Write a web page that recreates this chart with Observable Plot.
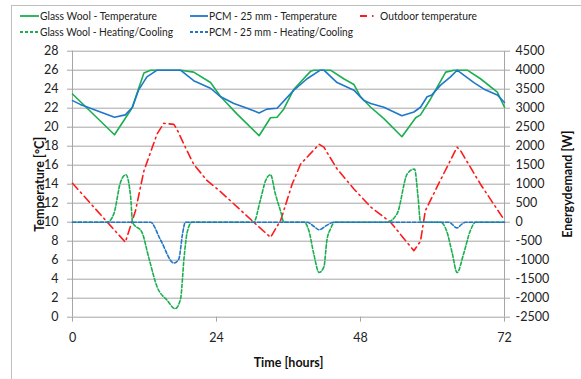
<!DOCTYPE html>
<html>
<head>
<meta charset="utf-8">
<script src="https://cdn.jsdelivr.net/npm/d3@7"></script>
<script src="https://cdn.jsdelivr.net/npm/@observablehq/plot@0.6"></script>
<style>
  html, body { margin: 0; padding: 0; background: #fff; overflow: hidden; width: 581px; height: 379px; }
  #frame { position: absolute; left: 11px; top: 5px; width: 700px; height: 500px; border: 1px solid #bfbfbf; }
  #legend { position: absolute; left: 0; top: 0; }
  #chart { position: absolute; left: 0; top: 30px; }
</style>
</head>
<body>
<div id="frame"></div>
<div id="chart"></div>
<svg id="legend" width="581" height="45" font-family="Lato, sans-serif" font-size="12.3px"></svg>
<script>
// ---- Data ----
// Glass Wool - Temperature [°C]
const gwTempHours = [0, 7, 9.9, 11.9, 13, 18, 20.2, 23, 24.7, 27.4, 31.1, 33, 34.1, 35.2, 36.9, 39.7, 40.2, 43, 45.2, 46.9, 48, 49.7, 51.9, 54.9, 57.2, 58, 59.7, 62.2, 63.6, 65.8, 68, 70.8, 72];
const gwTempValues = [23.5, 19.2, 22.0, 25.7, 26, 26, 25.8, 24.7, 23.2, 21.4, 19.1, 21, 21.05, 21.9, 24, 25.9, 26, 26, 25.1, 24.5, 23.2, 22.1, 20.9, 19, 21, 21.3, 23, 25.8, 26, 26, 25.1, 23.7, 22.1];
// PCM - 25 mm - Temperature [°C]
const pcmTempHours = [0, 1.3, 7, 8.8, 10, 11, 12.4, 14.1, 18, 20.2, 23, 24.7, 26.9, 29.1, 31.1, 32.4, 34.1, 36.9, 39.1, 41.3, 41.9, 44.1, 46.9, 48.6, 49.7, 51.9, 54.9, 56.9, 58, 59.1, 59.9, 61.3, 63, 64.1, 66.9, 68.6, 70.8, 72];
const pcmTempValues = [22.8, 22.4, 21.05, 21.3, 22.1, 23.9, 25.3, 26, 26, 24.9, 24.1, 23.2, 22.5, 22, 21.5, 21.9, 22, 23.9, 25.1, 26, 26, 24.7, 23.9, 22.8, 22.5, 22.1, 21.2, 21.6, 22.1, 23.2, 23.4, 24.4, 25.3, 26, 24.7, 24, 23.4, 22.6];
// Outdoor temperature [°C]
const outHours = [0, 5.8, 8.8, 10.5, 11.9, 14.1, 15.2, 16.9, 17.4, 18.8, 20.2, 22.4, 24.7, 30.2, 33, 34.7, 36.6, 38, 41.1, 41.9, 44.1, 46.9, 49.7, 53, 56.9, 58, 58.8, 61.3, 64.1, 64.7, 68, 70.2, 72];
const outValues = [14.1, 10, 7.9, 11.2, 15.4, 19.3, 20.4, 20.3, 19.8, 17.9, 16.1, 14.4, 13.2, 10, 8.4, 10.2, 14, 16.1, 18.2, 17.9, 15.6, 13.5, 11.6, 10, 7, 8, 11.2, 14.4, 17.9, 17.5, 14, 11.9, 10.2];
// Glass Wool - Heating/Cooling [W]
const gwHcHours = [0, 5.8, 6.9, 8, 8.9, 9.7, 10, 11.6, 12.7, 14.1, 15.8, 17.1, 18, 18.6, 19.1, 19.9, 30.2, 31.3, 32.2, 33, 33.8, 34.8, 35.2, 38.6, 39.4, 40.2, 41.1, 41.9, 42.4, 43, 43.7, 52.4, 54.1, 55.8, 57, 57.6, 58, 61.3, 62.4, 63.3, 64.1, 65.2, 66.3, 67.2, 72];
const gwHcValues = [0, 0, 225, 1050, 1250, 650, 0, -275, -925, -1700, -2060, -2275, -2025, -925, -275, 0, 0, 575, 1100, 1250, 750, 225, 0, 0, -225, -825, -1325, -1175, -475, -175, 0, 0, 225, 1275, 1400, 650, 0, 0, -250, -825, -1325, -825, -225, 0, 0];
// PCM - 25 mm - Heating/Cooling [W]
const pcmHcHours = [0, 13, 14.7, 16.9, 17.7, 18.4, 18.8, 39.1, 40.3, 41.1, 42.2, 43.6, 62.7, 64.1, 64.9, 65.5, 72];
const pcmHcValues = [0, 0, -475, -1075, -975, -250, 0, 0, -120, -200, -100, 0, 0, -150, -50, 0, 0];

const xTicks = [0, 24, 48, 72];
const tempTicks = d3.range(0, 29, 2);

// ---- Styles ----
const green = "#1aaf4f", blue = "#1f77c9", red = "#ff1a1a";
const series = [
  {name: "Glass Wool - Temperature", hours: gwTempHours, values: gwTempValues, color: green, dash: null, right: false, curve: "linear"},
  {name: "PCM - 25 mm - Temperature", hours: pcmTempHours, values: pcmTempValues, color: blue, dash: null, right: false, curve: "linear"},
  {name: "Outdoor temperature", hours: outHours, values: outValues, color: red, dash: "8,4,1.5,4", right: false, curve: "linear"},
  {name: "Glass Wool - Heating/Cooling", hours: gwHcHours, values: gwHcValues, color: green, dash: "3.5,2", right: true, curve: "monotone-x"},
  {name: "PCM - 25 mm - Heating/Cooling", hours: pcmHcHours, values: pcmHcValues, color: blue, dash: "3.5,2", right: true, curve: "monotone-x"}
];
// Right axis (W) mapped onto left axis (°C): 0 W ↔ 10 °C, 500 W ↔ 2 °C
const wToT = w => 10 + w / 250;
const tToW = t => (t - 10) * 250;

// ---- Legend (swatch x-range, text start, text width, row) ----
const legendLayout = [
  {s: 0, x0: 20, x1: 39, tx: 40, tw: 117, y: 16},
  {s: 1, x0: 190, x1: 208, tx: 209, tw: 128, y: 16},
  {s: 2, x0: 360, x1: 375, tx: 380, tw: 97, y: 16},
  {s: 3, x0: 20, x1: 39, tx: 40, tw: 133, y: 32},
  {s: 4, x0: 190, x1: 208, tx: 209, tw: 144, y: 32}
];
const ns = "http://www.w3.org/2000/svg";
const legend = document.getElementById("legend");
for (const p of legendLayout) {
  const s = series[p.s];
  const line = document.createElementNS(ns, "line");
  line.setAttribute("x1", p.x0); line.setAttribute("x2", p.x1);
  line.setAttribute("y1", p.y); line.setAttribute("y2", p.y);
  line.setAttribute("stroke", s.color); line.setAttribute("stroke-width", 1.8);
  if (s.dash) line.setAttribute("stroke-dasharray", p.s === 2 ? "7,5,1.5,3" : "3,2");
  legend.appendChild(line);
  const t = document.createElementNS(ns, "text");
  t.setAttribute("x", p.tx); t.setAttribute("y", p.y);
  t.setAttribute("dy", "0.35em");
  t.setAttribute("fill", "#222");
  t.setAttribute("textLength", p.tw);
  t.setAttribute("lengthAdjust", "spacingAndGlyphs");
  t.textContent = s.name;
  legend.appendChild(t);
}

// ---- Chart ----
const rows = s => s.hours.map((h, i) => ({h, v: s.right ? wToT(s.values[i]) : s.values[i]}));
const grid = "#a6a6a6";
const chart = Plot.plot({
  width: 581,
  height: 349,
  marginLeft: 72,
  marginRight: 77,
  marginTop: 20.7,
  marginBottom: 62.3,
  style: {fontFamily: "Lato, sans-serif", fontSize: "12.5px", color: "#222", background: "transparent"},
  x: {domain: [0, 72]},
  y: {domain: [0, 28]},
  marks: [
    Plot.ruleY(tempTicks, {stroke: grid, strokeWidth: 1}),
    Plot.ruleX([0, 72], {stroke: grid, strokeWidth: 1}),
    Plot.axisY(tempTicks, {anchor: "left", tickSize: 5, tickPadding: 9, stroke: grid, fill: "#222", label: null}),
    Plot.axisY(tempTicks, {anchor: "right", tickSize: 5, tickPadding: 6, stroke: grid, fill: "#222", label: null, tickFormat: t => String(tToW(t))}),
    Plot.axisX(xTicks, {anchor: "bottom", tickSize: 5, tickPadding: 11, stroke: grid, fill: "#222", label: null}),
    ...series.map(s => Plot.line(rows(s), {
      x: "h", y: "v", stroke: s.color, strokeWidth: 1.6,
      strokeDasharray: s.dash, curve: s.curve
    })),
    Plot.text(["Temperature [°C]"], {frameAnchor: "left", dx: -33, rotate: -90, textAnchor: "middle", lineAnchor: "middle", fontWeight: "bold", fontSize: 12.5, fill: "#111"}),
    Plot.text(["Energydemand [W]"], {frameAnchor: "right", dx: 63, rotate: -90, textAnchor: "middle", lineAnchor: "middle", fontWeight: "bold", fontSize: 12.5, fill: "#111"}),
    Plot.text(["Time [hours]"], {frameAnchor: "bottom", dy: 46, textAnchor: "middle", lineAnchor: "middle", fontWeight: "bold", fontSize: 12.5, fill: "#111"})
  ]
});
document.getElementById("chart").appendChild(chart);
</script>
</body>
</html>
